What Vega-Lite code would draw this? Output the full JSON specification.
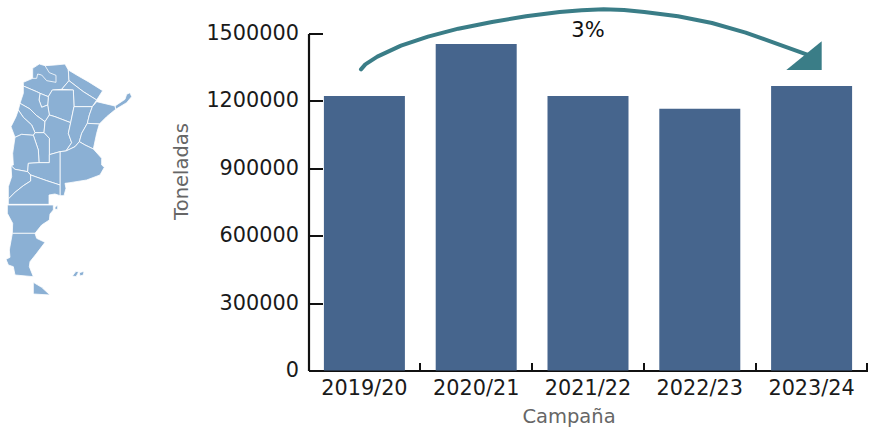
{
"$schema":"https://vega.github.io/schema/vega-lite/v6.json",
"width":559,"height":337,
"autosize":{"type":"none"},
"padding":{"left":308.5,"top":33.5,"right":2.5,"bottom":58.5},
"background":"white",
"config":{"view":{"stroke":null},"font":"DejaVu Sans"},
"datasets":{
"bars":[{"campana":"2019/20","toneladas":1222000},{"campana":"2020/21","toneladas":1453000},{"campana":"2021/22","toneladas":1222000},{"campana":"2022/23","toneladas":1165000},{"campana":"2023/24","toneladas":1266000}],
"note":[{"campana":"2021/22","toneladas":1511000,"texto":"3%"}]
},
"layer":[
{"data":{"values":{"type":"FeatureCollection","features":[
{"type":"Feature","properties":{"n":"Salta"},"geometry":{"type":"Polygon","coordinates":[[[135,47],[165,45],[195,42],[205,60],[207,92],[185,118],[157,120],[145,140],[120,130],[110,125],[70,108],[70,97],[98,85],[98,55],[118,42],[135,47]]]}},
{"type":"Feature","properties":{"n":"Jujuy"},"geometry":{"type":"Polygon","coordinates":[[[98,85],[98,55],[118,42],[135,47],[148,68],[168,76],[168,97],[140,92],[125,75],[113,72],[110,85],[98,85]]]}},
{"type":"Feature","properties":{"n":"Formosa"},"geometry":{"type":"Polygon","coordinates":[[[205,60],[235,78],[265,95],[308,122],[290,150],[250,125],[207,92],[205,60]]]}},
{"type":"Feature","properties":{"n":"Chaco"},"geometry":{"type":"Polygon","coordinates":[[[207,92],[250,125],[290,150],[277,170],[222,170],[220,120],[185,118],[207,92]]]}},
{"type":"Feature","properties":{"n":"Santiago del Estero"},"geometry":{"type":"Polygon","coordinates":[[[157,120],[220,120],[222,170],[212,218],[165,200],[148,195],[143,165],[145,140],[157,120]]]}},
{"type":"Feature","properties":{"n":"Tucuman"},"geometry":{"type":"Polygon","coordinates":[[[120,130],[145,140],[143,165],[125,172],[117,150],[120,130]]]}},
{"type":"Feature","properties":{"n":"Catamarca"},"geometry":{"type":"Polygon","coordinates":[[[70,108],[110,125],[120,130],[117,150],[125,172],[143,165],[148,195],[135,215],[110,197],[90,177],[60,160],[70,130],[70,108]]]}},
{"type":"Feature","properties":{"n":"La Rioja"},"geometry":{"type":"Polygon","coordinates":[[[55,180],[60,160],[90,177],[110,197],[135,215],[132,248],[105,248],[95,225],[70,202],[55,180]]]}},
{"type":"Feature","properties":{"n":"San Juan"},"geometry":{"type":"Polygon","coordinates":[[[55,180],[70,202],[95,225],[105,248],[100,256],[65,253],[45,262],[33,230],[48,200],[55,180]]]}},
{"type":"Feature","properties":{"n":"Cordoba"},"geometry":{"type":"Polygon","coordinates":[[[148,195],[165,200],[212,218],[205,250],[215,278],[198,303],[180,305],[148,314],[148,265],[132,248],[135,215],[148,195]]]}},
{"type":"Feature","properties":{"n":"San Luis"},"geometry":{"type":"Polygon","coordinates":[[[100,256],[105,248],[132,248],[148,265],[148,338],[117,338],[115,300],[100,256]]]}},
{"type":"Feature","properties":{"n":"Mendoza"},"geometry":{"type":"Polygon","coordinates":[[[45,262],[65,253],[100,256],[115,300],[117,338],[85,340],[83,365],[45,358],[33,347],[40,345],[38,310],[45,262]]]}},
{"type":"Feature","properties":{"n":"Santa Fe"},"geometry":{"type":"Polygon","coordinates":[[[222,170],[277,170],[268,195],[262,220],[245,250],[238,275],[225,290],[198,303],[215,278],[205,250],[212,218],[222,170]]]}},
{"type":"Feature","properties":{"n":"Misiones"},"geometry":{"type":"Polygon","coordinates":[[[345,168],[360,158],[375,148],[380,133],[390,128],[395,140],[380,158],[347,178],[345,168]]]}},
{"type":"Feature","properties":{"n":"Corrientes"},"geometry":{"type":"Polygon","coordinates":[[[290,155],[345,168],[347,178],[320,200],[298,222],[262,220],[268,195],[277,170],[290,155]]]}},
{"type":"Feature","properties":{"n":"Entre Rios"},"geometry":{"type":"Polygon","coordinates":[[[262,220],[298,222],[290,250],[280,297],[255,285],[238,275],[245,250],[262,220]]]}},
{"type":"Feature","properties":{"n":"Buenos Aires"},"geometry":{"type":"Polygon","coordinates":[[[180,305],[198,303],[225,290],[238,275],[255,285],[280,297],[305,325],[305,345],[313,352],[300,375],[260,390],[210,398],[195,400],[198,415],[192,437],[180,437],[180,305]]]}},
{"type":"Feature","properties":{"n":"La Pampa"},"geometry":{"type":"Polygon","coordinates":[[[85,340],[117,338],[148,338],[148,314],[180,305],[180,405],[140,392],[92,375],[83,365],[85,340]]]}},
{"type":"Feature","properties":{"n":"Neuquen"},"geometry":{"type":"Polygon","coordinates":[[[33,347],[45,358],[83,365],[92,375],[92,393],[70,407],[45,427],[25,447],[25,410],[35,380],[33,347]]]}},
{"type":"Feature","properties":{"n":"Rio Negro"},"geometry":{"type":"Polygon","coordinates":[[[92,375],[140,392],[180,405],[180,437],[165,432],[147,435],[147,463],[25,463],[25,447],[45,427],[70,407],[92,393],[92,375]]]}},
{"type":"Feature","properties":{"n":"Chubut"},"geometry":{"type":"Polygon","coordinates":[[[22,465],[160,465],[160,480],[150,492],[148,510],[125,525],[105,550],[37,550],[38,520],[22,490],[22,465]]]}},
{"type":"Feature","properties":{"n":"Santa Cruz"},"geometry":{"type":"Polygon","coordinates":[[[37,550],[105,550],[110,565],[135,577],[110,610],[90,635],[88,650],[100,680],[45,675],[40,650],[25,645],[18,628],[30,622],[28,600],[37,550]]]}},
{"type":"Feature","properties":{"n":"Tierra del Fuego"},"geometry":{"type":"Polygon","coordinates":[[[100,697],[125,712],[150,735],[100,732],[100,697]]]}},
{"type":"Feature","properties":{"n":"Malvinas E"},"geometry":{"type":"Polygon","coordinates":[[[238,668],[252,664],[250,675],[240,678],[238,668]]]}},
{"type":"Feature","properties":{"n":"Malvinas O"},"geometry":{"type":"Polygon","coordinates":[[[217,678],[228,664],[236,666],[228,680],[217,678]]]}},
{"type":"Feature","properties":{"n":"Valdes"},"geometry":{"type":"Polygon","coordinates":[[[165,472],[173,465],[173,478],[165,478],[165,472]]]}}
]},"format":{"type":"json","property":"features"}},
"projection":{"type":"identity","scale":0.33333,"translate":[-308.5,16.5]},
"mark":{"type":"geoshape","clip":false,"fill":"#8BB0D4","stroke":"white","strokeWidth":0.8}},
{"data":{"name":"bars"},
"mark":{"type":"bar","fill":"#46658D","width":81,"y2Offset":1.5,"clip":false},
"encoding":{
"x":{"field":"campana","type":"nominal","sort":null,"scale":{"paddingInner":0.277,"paddingOuter":0.1385},
"axis":{"title":"Campaña","titleFontSize":19.5,"titleFontWeight":"normal","titleColor":"#666666","titleX":260,"titleY":37,"labelFontSize":20.8,"labelColor":"#1a1a1a","labelAngle":0,"labelPadding":16,"bandPosition":1.19,"tickExtra":false,"tickSize":-8,"tickWidth":2,"tickColor":"#111111","domainWidth":2.2,"domainColor":"#111111","grid":false,"zindex":0}},
"y":{"field":"toneladas","type":"quantitative","scale":{"domain":[0,1500000]},
"axis":{"title":"Toneladas","titleFontSize":19.5,"titleFontWeight":"normal","titleColor":"#666666","titleX":-117,"titleY":137.5,"labelFontSize":20.8,"labelColor":"#1a1a1a","values":[0,300000,600000,900000,1200000,1500000],"format":"d","labelPadding":24,"tickSize":-14,"tickWidth":2,"tickColor":"#111111","domainWidth":2.2,"domainColor":"#111111","grid":false,"zindex":0}}
}},
{"data":{"values":{"type":"FeatureCollection","features":[
{"type":"Feature","properties":{"n":"curva"},"geometry":{"type":"LineString","coordinates":[[1083,58],[1096,43],[1132,20],[1203,-13],[1284,-40],[1375,-64],[1476,-84],[1578,-101],[1679,-114],[1745,-119],[1811,-122],[1872,-120],[1933,-114],[2034,-101],[2136,-81],[2237,-52],[2338,-16],[2430,17]]}}
]},"format":{"type":"json","property":"features"}},
"projection":{"type":"identity","scale":0.33333,"translate":[-308.5,16.5]},
"mark":{"type":"geoshape","clip":false,"filled":false,"stroke":"#3A7D87","strokeWidth":4,"strokeCap":"round","strokeJoin":"round"}},
{"data":{"values":{"type":"FeatureCollection","features":[
{"type":"Feature","properties":{"n":"punta"},"geometry":{"type":"Polygon","coordinates":[[[2465,-26],[2465,60],[2359,60],[2465,-26]]]}}
]},"format":{"type":"json","property":"features"}},
"projection":{"type":"identity","scale":0.33333,"translate":[-308.5,16.5]},
"mark":{"type":"geoshape","clip":false,"fill":"#3A7D87","stroke":null}},
{"data":{"name":"note"},
"mark":{"type":"text","fontSize":21,"color":"#111111","clip":false},
"encoding":{"x":{"field":"campana","type":"nominal","sort":null},"y":{"field":"toneladas","type":"quantitative","scale":{"domain":[0,1500000]}},"text":{"field":"texto"}}}
]
}
